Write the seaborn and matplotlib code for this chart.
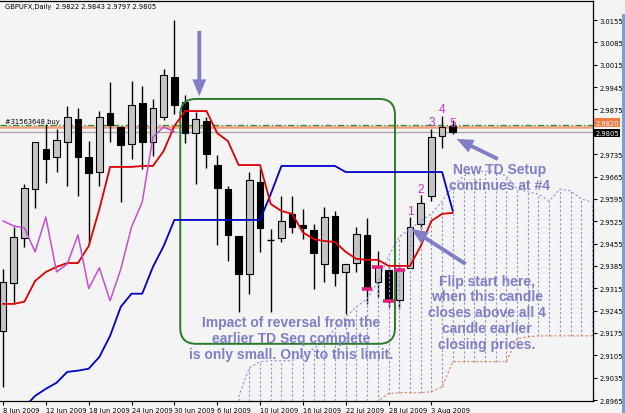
import matplotlib
matplotlib.use("Agg")
import matplotlib.pyplot as plt
import matplotlib.transforms as mtransforms
from matplotlib.patches import FancyBboxPatch, Rectangle
from matplotlib import font_manager as fm
import numpy as np
import pandas as pd
import seaborn as sns

# ---------------- data ----------------
title_text = "GBPUFX,Daily  2.9822 2.9843 2.9797 2.9805"
date_labels = ["8 Jun 2009", "12 Jun 2009", "18 Jun 2009", "24 Jun 2009", "30 Jun 2009",
               "6 Jul 2009", "10 Jul 2009", "16 Jul 2009", "22 Jul 2009", "28 Jul 2009", "3 Aug 2009"]
date_label_bars = [0, 4, 8, 12, 16, 20, 24, 28, 32, 36, 40]

opens = [2.9182, 2.9332, 2.9472, 2.9626, 2.9751, 2.9726, 2.9773, 2.9845, 2.9726, 2.9679,
         2.9864, 2.9820, 2.9767, 2.9895, 2.9773, 2.9851, 2.9977, 2.9898, 2.9801, 2.9839,
         2.9701, 2.9626, 2.9479, 2.9360, 2.9648, 2.9466, 2.9472, 2.9548, 2.9513, 2.9497,
         2.9391, 2.9541, 2.9366, 2.9394, 2.9482, 2.9335, 2.9372, 2.9279, 2.9379, 2.9516,
         2.9604, 2.9792, 2.9822]
highs = [2.9375, 2.9507, 2.9642, 2.9773, 2.9829, 2.9814, 2.9886, 2.9880, 2.9776, 2.9870,
         2.9961, 2.9823, 2.9964, 2.9949, 2.9908, 3.0002, 3.0155, 2.9920, 2.9867, 2.9851,
         2.9732, 2.9635, 2.9479, 2.9679, 2.9689, 2.9501, 2.9604, 2.9604, 2.9563, 2.9516,
         2.9569, 2.9557, 2.9391, 2.9507, 2.9535, 2.9432, 2.9382, 2.9385, 2.9538, 2.9607,
         2.9814, 2.9855, 2.9843]
lows = [2.9006, 2.9266, 2.9444, 2.9566, 2.9645, 2.9679, 2.9635, 2.9604, 2.9454, 2.9635,
        2.9773, 2.9585, 2.9720, 2.9689, 2.9729, 2.9842, 2.9861, 2.9770, 2.9642, 2.9692,
        2.9450, 2.9401, 2.9241, 2.9298, 2.9429, 2.9241, 2.9460, 2.9488, 2.9469, 2.9314,
        2.9335, 2.9323, 2.9235, 2.9366, 2.9266, 2.9289, 2.9257, 2.9250, 2.9379, 2.9501,
        2.9588, 2.9754, 2.9797]
closes = [2.9335, 2.9476, 2.9629, 2.9773, 2.9720, 2.9779, 2.9851, 2.9726, 2.9676, 2.9851,
          2.9826, 2.9764, 2.9889, 2.9773, 2.9880, 2.9983, 2.9889, 2.9801, 2.9845, 2.9735,
          2.9629, 2.9482, 2.9360, 2.9654, 2.9504, 2.9466, 2.9526, 2.9507, 2.9504, 2.9425,
          2.9538, 2.9363, 2.9391, 2.9485, 2.9314, 2.9382, 2.9276, 2.9372, 2.9507, 2.9582,
          2.9789, 2.9820, 2.9805]

tenkan = [2.9266, 2.9266, 2.9273, 2.9338, 2.9366, 2.9382, 2.9394, 2.9394, 2.9447, 2.9563,
          2.9695, 2.9695, 2.9695, 2.9698, 2.9698, 2.9745, 2.9823, 2.9870, 2.9870, 2.9870,
          2.9801, 2.9776, 2.9701, 2.9701, 2.9701, 2.9579, 2.9557, 2.9548, 2.9490, 2.9469,
          2.9463, 2.9460, 2.9429, 2.9407, 2.9404, 2.9404, 2.9385, 2.9385, 2.9385, 2.9447,
          2.9526, 2.9548, 2.9551]
kijun = [2.8874, 2.8906, 2.8943, 2.8978, 2.9000, 2.9019, 2.9053, 2.9057, 2.9063, 2.9100,
         2.9166, 2.9257, 2.9298, 2.9298, 2.9382, 2.9447, 2.9529, 2.9529, 2.9529, 2.9529,
         2.9529, 2.9529, 2.9529, 2.9529, 2.9529, 2.9610, 2.9698, 2.9698, 2.9698, 2.9698,
         2.9698, 2.9698, 2.9679, 2.9679, 2.9679, 2.9679, 2.9679, 2.9679, 2.9679, 2.9679,
         2.9679, 2.9679, 2.9557]
chikou = [2.9526, 2.9510, 2.9504, 2.9429, 2.9538, 2.9366, 2.9391, 2.9482, 2.9314, 2.9379,
          2.9276, 2.9375, 2.9507, 2.9585, 2.9789, 2.9820, 2.9805]

cloud_first_bar = 22
cloud_upper = [2.8975, 2.9066, 2.9085, 2.9088, 2.9088, 2.9088, 2.9106, 2.9126, 2.9151, 2.9188,
               2.9225, 2.9257, 2.9282, 2.9335, 2.9416, 2.9476, 2.9501, 2.9526, 2.9548, 2.9588,
               2.9635, 2.9667, 2.9679, 2.9682, 2.9679, 2.9667, 2.9626, 2.9617, 2.9610, 2.9588,
               2.9626, 2.9620, 2.9595, 2.9585]
cloud_lower = [2.8906, 2.8906, 2.8906, 2.8906, 2.8906, 2.8906, 2.8906, 2.8906, 2.8906, 2.8906,
               2.8906, 2.8906, 2.8906, 2.8962, 2.8985, 2.8988, 2.8988, 2.8988, 2.8991, 2.9006,
               2.9085, 2.9085, 2.9085, 2.9085, 2.9085, 2.9085, 2.9157, 2.9163, 2.9166, 2.9166,
               2.9166, 2.9166, 2.9166, 2.9166]

ytick_labels = ["3.0155", "3.0085", "3.0015", "2.9945", "2.9875", "2.9735", "2.9665", "2.9595",
                "2.9525", "2.9455", "2.9385", "2.9315", "2.9245", "2.9175", "2.9105", "2.9035",
                "2.8965"]

order_price = 2.9826
order_label = "#31563648 buy"
hline_price = 2.9820
bid_price = 2.9805

td_bars = [38, 39, 40, 41, 42]
td_texts = ["1", "2", "3", "4", "5"]
td_text_y = [2.9556, 2.9626, 2.9836, 2.9876, 2.9833]
tdst_bars = [34, 35, 36, 37]

box_bars = (16.55, 36.6)
box_prices = (2.9141, 2.9908)

note1 = ["Impact of reversal from the", "earlier TD Seq complete", "is only small. Only to this limit."]
note1_pos = (26.9, [2.9209, 2.9159, 2.9109])
note2 = ["New TD Setup", "continues at #4"]
note2_pos = (46.4, [2.9689, 2.9639])
note3 = ["Flip start here,", "when this candle", "closes above all 4", "candle earlier", "closing prices."]
note3_pos = (45.2, [2.9338, 2.9291, 2.9241, 2.9191, 2.9141])

arrows = [((18.33, 3.0121), (18.33, 2.9917)),
          ((46.2, 2.9720), (42.35, 2.9783)),
          ((43.2, 2.9391), (38.1, 2.9501))]

# ---------------- style ----------------
sns.set_style("white")
plt.rcParams["font.family"] = ["Liberation Sans", "DejaVu Sans"]

# small chart-terminal style font: a narrow face if one is installed
narrow_path = None
for key in ["LiberationSansNarrow-Regular", "DejaVuSansCondensed.ttf", "RobotoCondensed-Regular"]:
    for f in fm.fontManager.ttflist:
        if key in f.fname.replace(" ", ""):
            narrow_path = f.fname
            break
    if narrow_path:
        break
if narrow_path:
    small_fp = fm.FontProperties(fname=narrow_path, size=5.4)
else:
    small_fp = fm.FontProperties(family="Liberation Sans", size=4.8)

BG = "#f4f4f4"
NOTE = "#7f7fc6"
W, H = 625, 414
fig = plt.figure(figsize=(W / 100, H / 100), dpi=100, facecolor=BG)
ax_left, ax_right, ax_bot, ax_top = 0, 593, 12, 412
ax = fig.add_axes([ax_left / W, ax_bot / H, (ax_right - ax_left) / W, (ax_top - ax_bot) / H])
ax.set_facecolor(BG)

xmin, xmax = -0.28, 55.09
ymin, ymax = 2.89619, 3.02147
ax.set_xlim(xmin, xmax)
ax.set_ylim(ymin, ymax)

df = pd.DataFrame({"bar": np.arange(len(opens)), "open": opens, "high": highs,
                   "low": lows, "close": closes})
df["bull"] = df["close"] > df["open"]
df["doji"] = df["close"] == df["open"]

# cloud (hatching)
cx = np.arange(len(cloud_upper)) + cloud_first_bar
ax.vlines(cx, cloud_lower, cloud_upper, colors="#8f8fd8", linestyles=(0, (2.0, 2.0)),
          linewidth=0.8, zorder=3)
ax.plot(cx, cloud_upper, color="#8f8fd8", ls=(0, (2.0, 2.0)), lw=0.8, zorder=3)
ax.plot(cx, cloud_lower, color="#e8805a", ls=(0, (2.0, 2.0)), lw=0.8, zorder=3)

# candles
bw = 0.62
ax.vlines(df["bar"], df["low"], df["high"], color="black", lw=1.0, zorder=2)
bull = df[df["bull"]]
bear = df[~df["bull"] & ~df["doji"]]
doji = df[df["doji"]]
ax.bar(bull["bar"], bull["close"] - bull["open"], bottom=bull["open"], width=bw,
       color="#c4c4c4", edgecolor="black", linewidth=0.8, zorder=2.5)
ax.bar(bear["bar"], bear["open"] - bear["close"], bottom=bear["close"], width=bw,
       color="black", edgecolor="black", linewidth=0.8, zorder=2.5)
ax.hlines(doji["open"], doji["bar"] - bw / 2, doji["bar"] + bw / 2, color="black", lw=1.0, zorder=2.5)

# horizontal lines
ax.axhline(bid_price, color="#a8a8a8", lw=1.0, zorder=1.5)
ax.axhline(hline_price, color="#f0a07a", lw=1.8, zorder=1.6)
ax.axhline(order_price, color="#2e8b2e", lw=0.9, ls=(0, (5, 2, 1, 2)), zorder=1.7)

# ichimoku lines
sns.lineplot(x=np.arange(len(kijun)), y=kijun, ax=ax, color="#0000c8", lw=1.3, zorder=4)
sns.lineplot(x=np.arange(len(tenkan)), y=tenkan, ax=ax, color="#dd0000", lw=1.3, zorder=4.1)
sns.lineplot(x=np.arange(len(chikou)), y=chikou, ax=ax, color="#c050d0", lw=1.1, zorder=4.2)

# green rounded box
px_per_bar = (ax_right - ax_left) / (xmax - xmin)
px_per_price = (ax_top - ax_bot) / (ymax - ymin)
r_px = 16
r_x = r_px / px_per_bar
aspect = (r_px / px_per_price) / r_x
box = FancyBboxPatch((box_bars[0], box_prices[0]), box_bars[1] - box_bars[0],
                     box_prices[1] - box_prices[0],
                     boxstyle=f"round,pad=0,rounding_size={r_x}", mutation_aspect=aspect,
                     fill=False, ec="#2a7a2a", lw=1.4, zorder=3.5)
ax.add_patch(box)

# TD marks
marks = df.loc[tdst_bars]
ax.hlines(marks["close"], marks["bar"] - 0.5, marks["bar"] + 0.5, color="#e0207a", lw=2.6, zorder=6)
for b, t, yv in zip(td_bars, td_texts, td_text_y):
    ax.text(b, yv, t, color="#cc33cc", fontsize=8.5, ha="center", va="center", zorder=7)

# arrows
for (x0, y0), (x1, y1) in arrows:
    ax.annotate("", xy=(x1, y1), xytext=(x0, y0),
                arrowprops=dict(arrowstyle="simple,head_length=1.2,head_width=1.0,tail_width=0.28",
                                mutation_scale=10, fc=NOTE, ec="none", shrinkA=0, shrinkB=0),
                zorder=8)

# notes
for lines, (nx, nys) in [(note1, note1_pos), (note2, note2_pos), (note3, note3_pos)]:
    for s, ny in zip(lines, nys):
        ax.text(nx, ny, s, color=NOTE, fontsize=10, fontweight="bold", ha="center",
                va="center", zorder=9)

# order label and title
blend = mtransforms.blended_transform_factory(ax.transAxes, ax.transData)
ax.text(5 / (ax_right - ax_left), order_price + 0.0003, order_label, transform=blend,
        fontproperties=small_fp, va="bottom", ha="left", color="black", zorder=9)
fig.text(5 / W, 1 - 7 / H, title_text, fontproperties=small_fp, va="center",
         ha="left", color="black")

# axes / ticks
ax.yaxis.tick_right()
ax.set_yticks([float(v) for v in ytick_labels])
ax.set_yticklabels(ytick_labels, fontproperties=small_fp)
ax.set_xticks(date_label_bars)
ax.set_xticklabels(date_labels, ha="left", fontproperties=small_fp)
ax.tick_params(axis="y", which="both", right=True, left=False, direction="out", length=3,
               width=0.8, pad=1.5, colors="black")
ax.tick_params(axis="x", which="both", bottom=True, direction="out", length=3, width=0.8,
               pad=1.5, colors="black")
for side in ["top", "right", "bottom"]:
    ax.spines[side].set_color("black")
    ax.spines[side].set_linewidth(0.9)
ax.spines["left"].set_visible(False)

# price boxes on the right axis (the line's box sits just above the bid box)
ax.annotate(f"{hline_price:.4f}", xy=(1.0, hline_price), xycoords=blend,
            xytext=(1.5, 3.2), textcoords="offset points", fontproperties=small_fp,
            color="white", ha="left", va="center",
            bbox=dict(boxstyle="square,pad=0.15", fc="#ee7a45", ec="none"),
            annotation_clip=False, zorder=10)
ax.annotate(f"{bid_price:.4f}", xy=(1.0, bid_price), xycoords=blend,
            xytext=(1.5, -0.6), textcoords="offset points", fontproperties=small_fp,
            color="white", ha="left", va="center",
            bbox=dict(boxstyle="square,pad=0.15", fc="black", ec="none"),
            annotation_clip=False, zorder=11)

# window border strip at right
fig.add_artist(Rectangle((622 / W, 0), 3 / W, 1 - 15 / H, transform=fig.transFigure,
                         fc="#7f9fcf", ec="none"))

fig.savefig("out.png", dpi=100, facecolor=BG)
